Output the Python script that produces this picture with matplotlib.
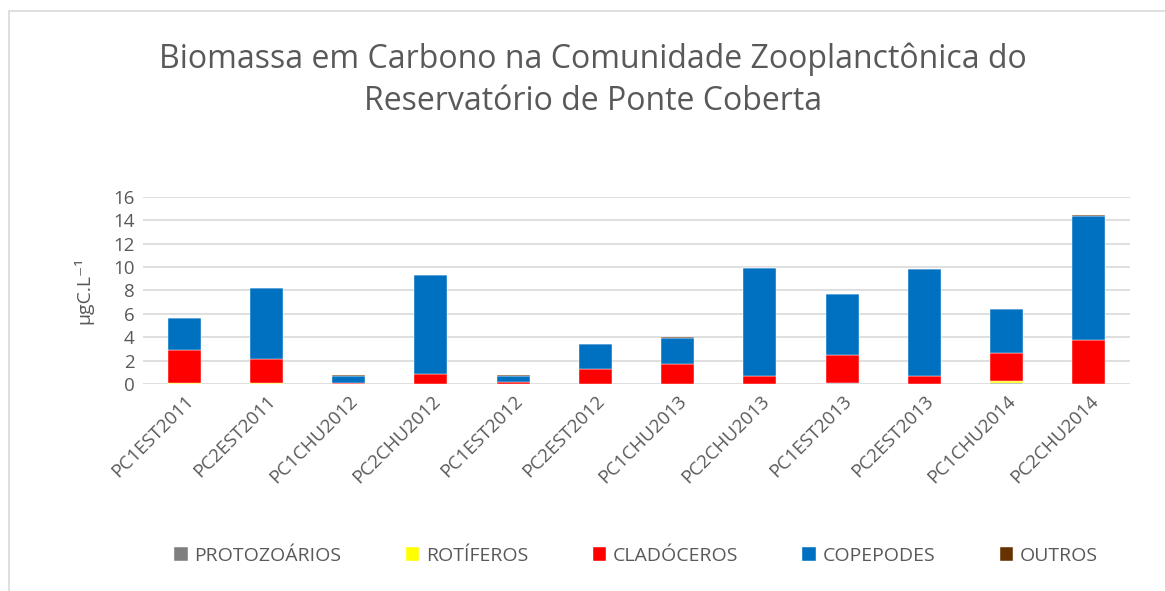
import numpy as np
import matplotlib.pyplot as plt
from matplotlib.patches import Rectangle

# Dados (µgC.L-1)
amostras = ["PC1EST2011", "PC2EST2011", "PC1CHU2012", "PC2CHU2012", "PC1EST2012", "PC2EST2012",
            "PC1CHU2013", "PC2CHU2013", "PC1EST2013", "PC2EST2013", "PC1CHU2014", "PC2CHU2014"]
protozoarios = [0.02, 0.02, 0.02, 0.02, 0.02, 0.02, 0.02, 0.02, 0.06, 0.02, 0.12, 0.02]
rotiferos    = [0.03, 0.03, 0.01, 0.01, 0.01, 0.01, 0.02, 0.01, 0.06, 0.01, 0.12, 0.02]
cladoceros   = [2.87, 2.09, 0.02, 0.79, 0.17, 1.26, 1.64, 0.68, 2.36, 0.68, 2.42, 3.73]
copepodes    = [2.71, 6.03, 0.60, 8.47, 0.45, 2.11, 2.29, 9.20, 5.21, 9.15, 3.77, 10.63]
outros       = [0.02, 0.02, 0.15, 0.02, 0.15, 0.02, 0.02, 0.02, 0.02, 0.02, 0.02, 0.08]

series = [("PROTOZOÁRIOS", protozoarios, "#7f7f7f"),
          ("ROTÍFEROS", rotiferos, "#ffff00"),
          ("CLADÓCEROS", cladoceros, "#ff0000"),
          ("COPEPODES", copepodes, "#0070c0"),
          ("OUTROS", outros, "#663300")]

plt.rcParams['font.family'] = ['Open Sans', 'DejaVu Sans']
cinza = "#595959"

fig = plt.figure(figsize=(11.65, 5.91), dpi=100)
ax = fig.add_axes([0.1227, 0.3503, 0.8473, 0.3164])

# moldura do gráfico
fig.patches.append(Rectangle((9 / 1165, -0.1), 1.2, 1.1 - 11 / 591, transform=fig.transFigure,
                             fill=False, edgecolor="#d9d9d9", linewidth=1.2))

x = np.arange(len(amostras))
base = np.zeros(len(amostras))
for nome, vals, cor in series:
    ax.bar(x, vals, width=0.4, bottom=base, color=cor, label=nome, zorder=3,
           edgecolor="white", linewidth=0.3)
    base += np.array(vals)

ax.set_xlim(-0.5, len(amostras) - 0.5)
ax.set_ylim(0, 16)
ax.set_yticks(range(0, 17, 2))
ax.grid(axis="y", color="#d9d9d9", linewidth=1.2, zorder=0)
for s in ax.spines.values():
    s.set_visible(False)
ax.tick_params(axis="both", length=0, colors=cinza, labelsize=13.5, pad=6)
ax.set_xticks(x)
ax.set_xticklabels(amostras, rotation=45, ha="right", rotation_mode="anchor")
ax.set_ylabel("µgC.L⁻¹", color=cinza, fontsize=14, labelpad=14)

fig.text(0.509, 1 - 80 / 591, "Biomassa em Carbono na Comunidade Zooplanctônica do\nReservatório de Ponte Coberta",
         ha="center", va="center", fontsize=23, color=cinza, linespacing=1.35)

fig.legend(loc="center", bbox_to_anchor=(0.546, 1 - 556 / 591), ncol=5, frameon=False,
           fontsize=14, labelcolor=cinza, handlelength=0.7, handleheight=0.7,
           handletextpad=0.35, columnspacing=3.3)

fig.savefig("out.png", dpi=100)
